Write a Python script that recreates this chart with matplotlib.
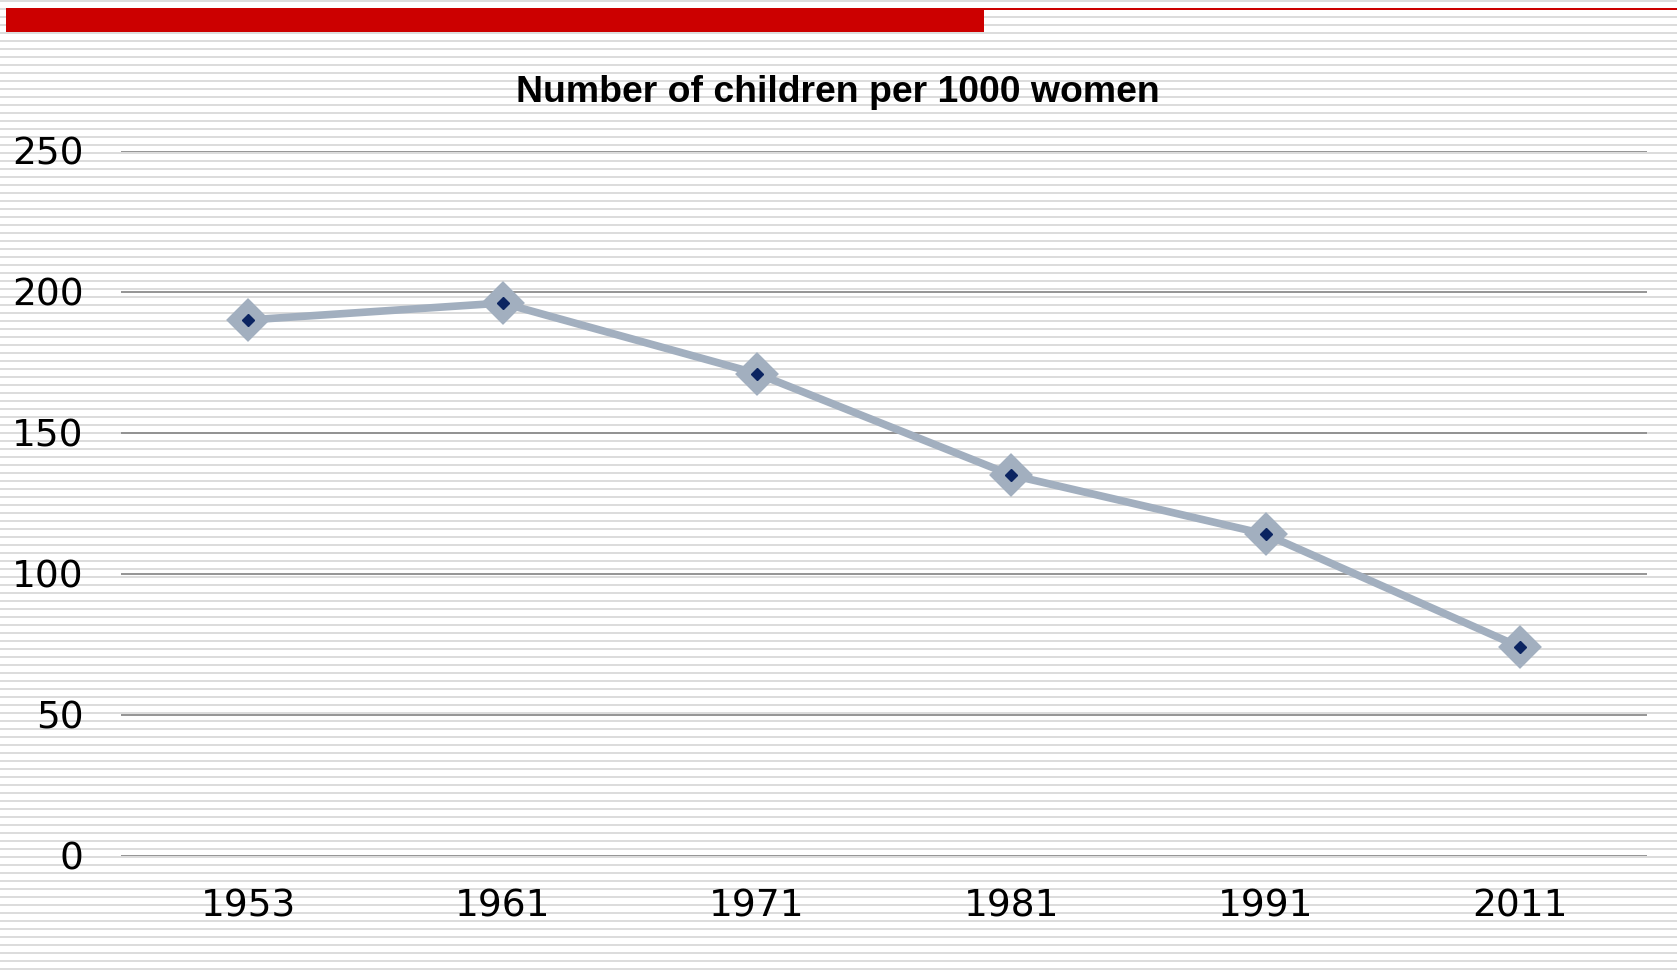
import matplotlib.pyplot as plt
from matplotlib.patches import Rectangle

# data
years = ['1953', '1961', '1971', '1981', '1991', '2011']
children = [190, 196, 171, 135, 114, 74]
yticks = [0, 50, 100, 150, 200, 250]

W, H = 1677, 971
fig = plt.figure(figsize=(W / 100, H / 100), dpi=100)

# striped background + red header bar (pixel coords)
bg = fig.add_axes([0, 0, 1, 1], zorder=0)
bg.set_xlim(0, W)
bg.set_ylim(H, 0)
bg.axis('off')
for y in range(0, H, 8):
    bg.add_patch(Rectangle((0, y + 0.5), W, 2, color='#dcdcdc', lw=0))
bg.add_patch(Rectangle((6, 8), 978, 24, color='#cc0000', lw=0))
bg.add_patch(Rectangle((984, 8), W - 984, 2, color='#cc0000', lw=0))

ax = fig.add_axes([121 / W, 1 - 855.6 / H, 1526 / W, (855.6 - 150.8) / H], zorder=1)
ax.patch.set_alpha(0)
x = range(len(years))
ax.plot(x, children, color='#a2afbf', lw=5.5, marker='D', ms=18,
        markeredgewidth=4, markeredgecolor='#a2afbf', markerfacecolor='#a2afbf',
        solid_capstyle='round', solid_joinstyle='round', zorder=3)
ax.plot(x, children, ls='none', marker='D', ms=6.5, color='#0b2461', zorder=4)

ax.set_xlim(-0.5, len(years) - 0.5)
ax.set_ylim(0, 250)
ax.set_yticks(yticks)
ax.set_xticks(list(x))
ax.set_xticklabels(years)
ax.yaxis.grid(True, color='#8c8c8c', lw=1.3)
ax.set_axisbelow(True)
for s in ax.spines.values():
    s.set_visible(False)
ax.tick_params(axis='both', length=0, labelsize=27, colors='black')
ax.tick_params(axis='y', pad=27)
ax.tick_params(axis='x', pad=24)

fig.text(0.4995, 1 - 92 / H, 'Number of children per 1000 women', ha='center', va='center',
         fontsize=26.9, fontweight='bold', family='Liberation Sans')

fig.savefig('out.png', dpi=100)
